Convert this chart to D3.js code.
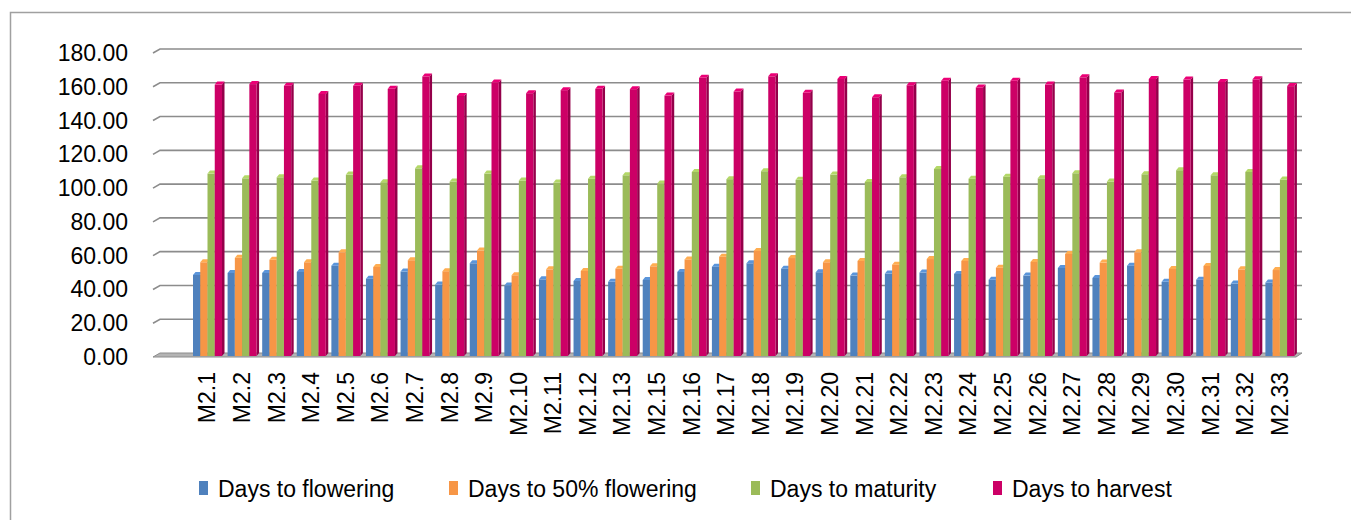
<!DOCTYPE html>
<html>
<head>
<meta charset="utf-8">
<script src="https://cdn.jsdelivr.net/npm/d3@7"></script>
<style>
  body { margin: 0; background: white; }
  text { font-family: "Liberation Sans", Arial, sans-serif; fill: #000; }
</style>
</head>
<body>
<div id="wykres"></div>
<script>
var categories = ["M2.1", "M2.2", "M2.3", "M2.4", "M2.5", "M2.6", "M2.7", "M2.8", "M2.9", "M2.10",
  "M2.11", "M2.12", "M2.13", "M2.15", "M2.16", "M2.17", "M2.18", "M2.19", "M2.20", "M2.21",
  "M2.22", "M2.23", "M2.24", "M2.25", "M2.26", "M2.27", "M2.28", "M2.29", "M2.30", "M2.31",
  "M2.32", "M2.33"];

var flowering = [48.0, 49.2, 49.2, 49.8, 53.5, 45.8, 50.0, 42.3, 54.9, 41.7,
  45.4, 44.4, 43.9, 45.0, 49.8, 52.9, 54.9, 51.7, 49.6, 47.6,
  48.8, 49.4, 48.6, 45.2, 47.6, 52.1, 46.2, 53.5, 43.9, 45.2,
  42.9, 43.5];
var flowering50 = [55.5, 58.2, 57.0, 55.5, 61.4, 52.7, 56.7, 50.2, 62.4, 47.8,
  51.3, 50.4, 51.7, 53.1, 57.2, 58.8, 62.2, 58.0, 55.5, 56.3,
  54.1, 57.4, 56.3, 52.3, 55.7, 60.4, 55.3, 61.4, 51.5, 53.3,
  51.3, 50.9];
var maturity = [108.0, 105.2, 105.8, 103.9, 107.4, 102.9, 111.1, 103.3, 108.0, 103.9,
  102.7, 105.0, 107.0, 102.1, 109.0, 104.7, 109.4, 104.3, 107.4, 103.1,
  105.8, 110.7, 105.0, 106.2, 105.2, 108.2, 103.3, 107.6, 110.0, 107.0,
  109.0, 104.5];
var harvest = [160.7, 161.0, 160.0, 155.2, 160.0, 158.2, 165.5, 154.0, 162.0, 155.6,
  157.4, 158.2, 158.0, 154.2, 164.7, 156.6, 165.6, 155.8, 164.0, 153.2,
  160.3, 163.0, 159.0, 163.0, 160.7, 165.0, 156.0, 164.0, 163.7, 162.3,
  163.8, 159.8];

var seriesNames = ["Days to flowering", "Days to 50% flowering", "Days to maturity", "Days to harvest"];
var seriesValues = [flowering, flowering50, maturity, harvest];
var yTicks = [0, 20, 40, 60, 80, 100, 120, 140, 160, 180];

var colors = ["#4f81bd", "#f79646", "#9bbb59", "#cc0066"];

var W = 1351, H = 520;
var dx = 2.5, dy = 3;

var svg = d3.select("#wykres")
  .append("svg")
  .attr("width", W)
  .attr("height", H);

// outer chart border
svg.append("rect")
  .attr("x", 10.5).attr("y", 12.5)
  .attr("width", W).attr("height", H)
  .attr("fill", "white")
  .attr("stroke", "#a0a0a0")
  .attr("stroke-width", 1.5);

var yscale = d3.scaleLinear().domain([0, 180]).range([353, 49]);

var xscale = d3.scaleBand()
  .domain(categories)
  .range([191, 1298]);

var xinner = d3.scaleBand()
  .domain(seriesNames)
  .range([2, 31]);

// gridlines on back wall with small perspective slant
svg.append("g")
  .selectAll("path")
  .data(yTicks.filter(d => d > 0))
  .enter().append("path")
  .attr("d", d => "M153," + (yscale(d) + 4) + "L160," + yscale(d) + "L1302," + yscale(d))
  .attr("fill", "none")
  .attr("stroke", "#8c8c8c")
  .attr("stroke-width", 1.6);

// floor
var y0 = yscale(0);
svg.append("path")
  .attr("d", "M153," + (y0 + 4) + "L160," + y0 + "L1302," + y0 + "L1296," + (y0 + 4) + "Z")
  .attr("fill", "#b4b4b4")
  .attr("stroke", "#8c8c8c")
  .attr("stroke-width", 1);

svg.append("g")
  .selectAll("text")
  .data(yTicks)
  .enter().append("text")
  .attr("x", 128)
  .attr("y", d => yscale(d) + 4)
  .attr("dy", "0.35em")
  .attr("text-anchor", "end")
  .style("font-size", "23px")
  .text(d => d3.format(".2f")(d));

// bars: front face + top + right side
var bars = svg.append("g");
seriesNames.forEach(function (name, s) {
  var col = d3.color(colors[s]);
  var g = bars.append("g");
  var w = xinner.bandwidth();
  categories.forEach(function (c, i) {
    var x = xscale(c) + xinner(name);
    var yt = yscale(seriesValues[s][i]);
    g.append("path")
      .attr("d", "M" + (x + w) + "," + (yt + dy) + "L" + (x + w + dx) + "," + yt +
        "L" + (x + w + dx) + "," + y0 + "L" + (x + w) + "," + (y0 + dy) + "Z")
      .attr("fill", col.darker(0.9));
    g.append("rect")
      .attr("x", x)
      .attr("y", yt + dy)
      .attr("width", w)
      .attr("height", y0 + dy - (yt + dy))
      .attr("fill", col);
    g.append("path")
      .attr("d", "M" + x + "," + (yt + dy) + "L" + (x + dx) + "," + yt +
        "L" + (x + w + dx) + "," + yt + "L" + (x + w) + "," + (yt + dy) + "Z")
      .attr("fill", col.brighter(0.4));
  });
});

svg.append("g")
  .selectAll("text")
  .data(categories)
  .enter().append("text")
  .attr("transform", d => "translate(" + (xscale(d) + xscale.bandwidth() / 2 - 1) + ",372)rotate(-90)")
  .attr("dy", "0.35em")
  .attr("text-anchor", "end")
  .style("font-size", "23px")
  .text(d => d);

// legend
var legendX = [199, 449, 751, 993];
var legend = svg.append("g");
seriesNames.forEach(function (name, s) {
  legend.append("rect")
    .attr("x", legendX[s]).attr("y", 481)
    .attr("width", 9).attr("height", 14)
    .attr("fill", colors[s]);
  legend.append("text")
    .attr("x", legendX[s] + 19)
    .attr("y", 489)
    .attr("dy", "0.35em")
    .style("font-size", "23px")
    .text(name);
});
</script>
</body>
</html>
